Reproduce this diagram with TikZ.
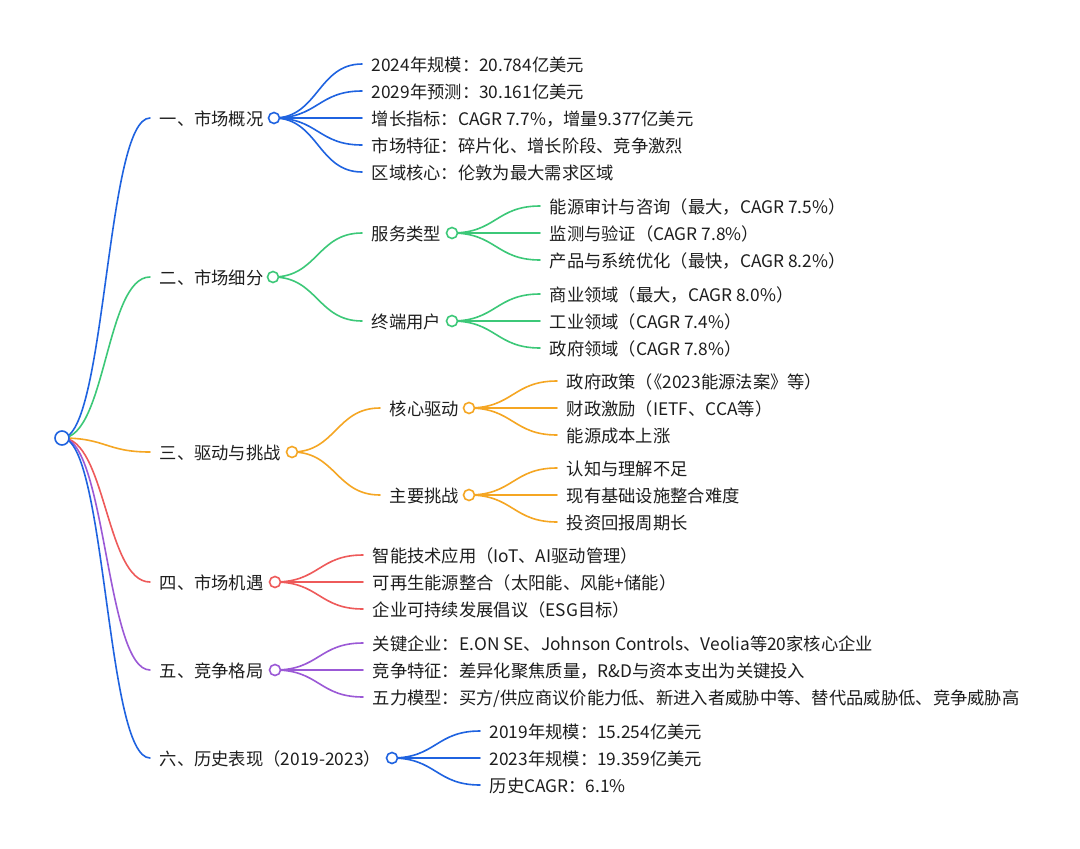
\documentclass[tikz,border=0pt]{standalone}
\usepackage{fontspec}
\setmainfont{Noto Sans CJK SC}
\usetikzlibrary{calc}
\definecolor{cblue}{HTML}{1F63E0}
\definecolor{cgreen}{HTML}{3CC878}
\definecolor{corange}{HTML}{F5A623}
\definecolor{cred}{HTML}{EE5A5A}
\definecolor{cpurple}{HTML}{9B59D6}
\definecolor{txt}{HTML}{1E1E1E}
\tikzset{
  lk/.style={line width=1.6pt, line cap=round},
  dot/.style={circle, line width=1.6pt, fill=white, minimum size=11pt, inner sep=0pt},
  rootdot/.style={dot, minimum size=14pt},
  lbl/.style={anchor=base west, inner sep=0pt, font=\fontsize{17.3}{20}\selectfont, text=txt},
}
\newcommand\conn[3]{\draw[lk,#1] let \p1=(#2), \p2=(#3), \p3=($(#2)!0.5!(#3)$) in (\p1) .. controls (\x3,\y1) and (\x3,\y2) .. (\p2);}
% #1 name, #2 color, #3 parent, #4 x end, #5 y, #6 text
\newcommand\leaf[6]{%
  \coordinate (#1) at (#4,#5);
  \conn{#2}{#3}{#1}
  \node[lbl] (#1t) at ([xshift=9.5pt,yshift=-7.5pt]#1) {#6};}
\begin{document}
\begin{tikzpicture}[x=1pt,y=-1pt]
\useasboundingbox (0,0) rectangle (1080,849);
\fill[white] (0,0) rectangle (1080,849);
% centres
\coordinate (r) at (62,438);
\coordinate (c1) at (274,118);
\coordinate (c2) at (273,277);
\coordinate (c3) at (292,452);
\coordinate (c4) at (275,582);
\coordinate (c5) at (275,670);
\coordinate (c6) at (392,758);
\coordinate (c21) at (452,233);
\coordinate (c22) at (452,321);
\coordinate (c31) at (469,408);
\coordinate (c32) at (469,495);
% level 1
\leaf{e1}{cblue}{r}{150}{118}{一、市场概况}
\leaf{e2}{cgreen}{r}{150}{277}{二、市场细分}
\leaf{e3}{corange}{r}{150}{452}{三、驱动与挑战}
\leaf{e4}{cred}{r}{150}{582}{四、市场机遇}
\leaf{e5}{cpurple}{r}{150}{670}{五、竞争格局}
\leaf{e6}{cblue}{r}{150}{758}{六、历史表现（2019-2023）}
% level 2
\leaf{e21}{cgreen}{c2}{362}{233}{服务类型}
\leaf{e22}{cgreen}{c2}{362}{321}{终端用户}
\leaf{e31}{corange}{c3}{380}{408}{核心驱动}
\leaf{e32}{corange}{c3}{380}{495}{主要挑战}
% leaves of 1
\leaf{a1}{cblue}{c1}{362}{64}{2024年规模：20.784亿美元}
\leaf{a2}{cblue}{c1}{362}{91}{2029年预测：30.161亿美元}
\leaf{a3}{cblue}{c1}{362}{118}{增长指标：CAGR 7.7\%，增量9.377亿美元}
\leaf{a4}{cblue}{c1}{362}{145}{市场特征：碎片化、增长阶段、竞争激烈}
\leaf{a5}{cblue}{c1}{362}{172}{区域核心：伦敦为最大需求区域}
% leaves of 服务类型
\leaf{b1}{cgreen}{c21}{540}{206}{能源审计与咨询（最大，CAGR 7.5\%）}
\leaf{b2}{cgreen}{c21}{540}{233}{监测与验证（CAGR 7.8\%）}
\leaf{b3}{cgreen}{c21}{540}{260}{产品与系统优化（最快，CAGR 8.2\%）}
% leaves of 终端用户
\leaf{b4}{cgreen}{c22}{540}{294}{商业领域（最大，CAGR 8.0\%）}
\leaf{b5}{cgreen}{c22}{540}{321}{工业领域（CAGR 7.4\%）}
\leaf{b6}{cgreen}{c22}{540}{348}{政府领域（CAGR 7.8\%）}
% leaves of 核心驱动
\leaf{d1}{corange}{c31}{557}{381}{政府政策（\kern-0.45em《2023能源法案》等）}
\leaf{d2}{corange}{c31}{557}{408}{财政激励（IETF、CCA等）}
\leaf{d3}{corange}{c31}{557}{435}{能源成本上涨}
% leaves of 主要挑战
\leaf{d4}{corange}{c32}{557}{468}{认知与理解不足}
\leaf{d5}{corange}{c32}{557}{495}{现有基础设施整合难度}
\leaf{d6}{corange}{c32}{557}{522}{投资回报周期长}
% leaves of 四
\leaf{f1}{cred}{c4}{363}{555}{智能技术应用（IoT、AI驱动管理）}
\leaf{f2}{cred}{c4}{363}{582}{可再生能源整合（太阳能、风能+储能）}
\leaf{f3}{cred}{c4}{363}{609}{企业可持续发展倡议（ESG目标）}
% leaves of 五
\leaf{g1}{cpurple}{c5}{363}{643}{关键企业：E.ON SE、Johnson Controls、Veolia等20家核心企业}
\leaf{g2}{cpurple}{c5}{363}{670}{竞争特征：差异化聚焦质量，R\&D与资本支出为关键投入}
\leaf{g3}{cpurple}{c5}{363}{697}{五力模型：买方/供应商议价能力低、新进入者威胁中等、替代品威胁低、竞争威胁高}
% leaves of 六
\leaf{h1}{cblue}{c6}{480}{731}{2019年规模：15.254亿美元}
\leaf{h2}{cblue}{c6}{480}{758}{2023年规模：19.359亿美元}
\leaf{h3}{cblue}{c6}{480}{785}{历史CAGR：6.1\%}
% circles on top
\node[rootdot, draw=cblue] (rd) at (r) {};
\node[dot, draw=cblue] (d1c) at (c1) {};
\node[dot, draw=cgreen] (d2c) at (c2) {};
\node[dot, draw=corange] (d3c) at (c3) {};
\node[dot, draw=cred] (d4c) at (c4) {};
\node[dot, draw=cpurple] (d5c) at (c5) {};
\node[dot, draw=cblue] (d6c) at (c6) {};
\node[dot, draw=cgreen] (d21c) at (c21) {};
\node[dot, draw=cgreen] (d22c) at (c22) {};
\node[dot, draw=corange] (d31c) at (c31) {};
\node[dot, draw=corange] (d32c) at (c32) {};
\end{tikzpicture}
\end{document}
